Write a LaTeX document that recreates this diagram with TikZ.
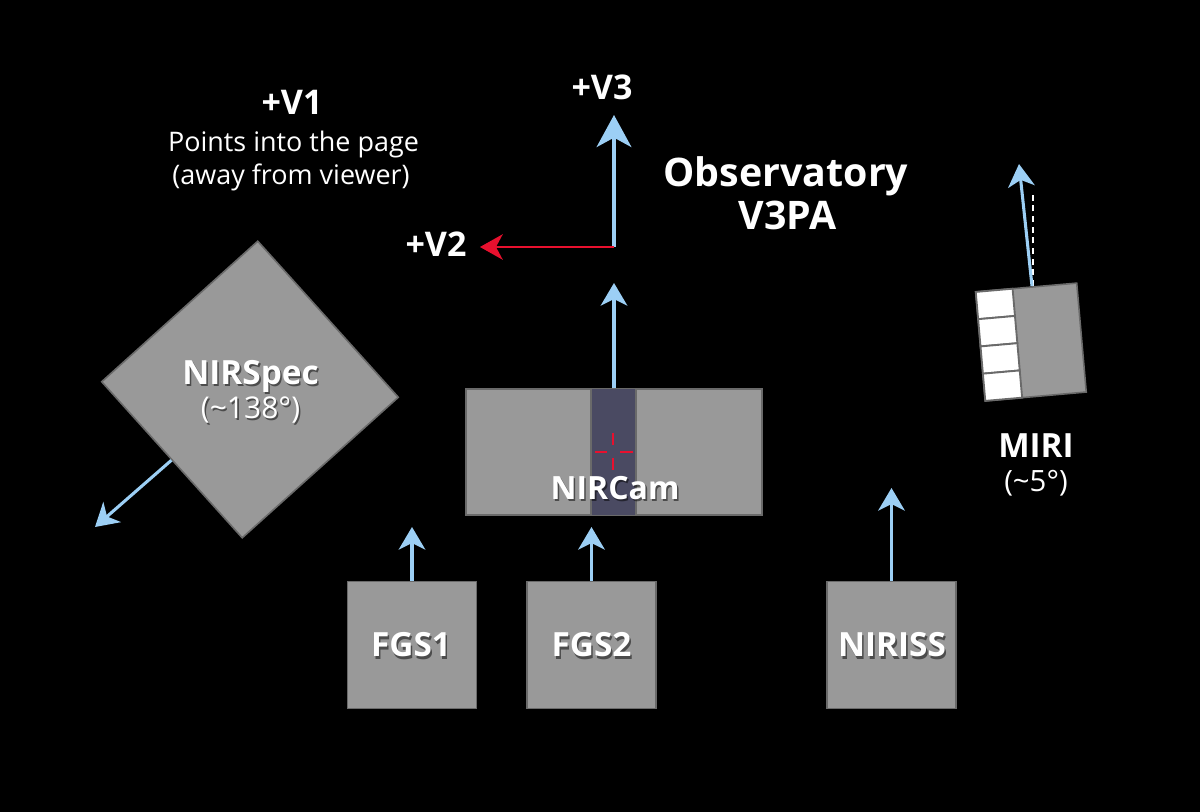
\documentclass[tikz,border=0pt]{standalone}
\usepackage{fontspec}
\setmainfont{Open Sans}
\usetikzlibrary{arrows.meta}
\definecolor{bx}{HTML}{999999}
\definecolor{bxline}{HTML}{6A6A6A}
\definecolor{stripe}{HTML}{4A4A62}
\definecolor{ablue}{HTML}{9CCFF5}
\definecolor{ared}{HTML}{E8102E}
\tikzset{
  box/.style={draw=bxline, fill=bx, line width=1.2pt, inner sep=0pt, minimum width=96.75pt, minimum height=95.25pt},
  barrow/.style={draw=ablue, line width=2.3pt, -{Stealth[length=17pt, width=20pt, inset=5pt, fill=ablue]}},
  bigarrow/.style={draw=ablue, line width=3pt, -{Stealth[length=24pt, width=26pt, inset=7pt, fill=ablue]}},
  rarrow/.style={draw=ared, line width=2pt, -{Stealth[length=17pt, width=19pt, inset=5pt, fill=ared]}},
  bigtxt/.style={text=white, anchor=base, inner sep=0pt, font=\bfseries\fontsize{25}{30}\selectfont},
  obstxt/.style={text=white, anchor=base, inner sep=0pt, font=\bfseries\fontsize{29.5}{34}\selectfont},
  axtxt/.style={text=white, anchor=base, inner sep=0pt, font=\bfseries\fontsize{25.5}{30}\selectfont},
  smtxt/.style={text=white, anchor=base, inner sep=0pt, font=\fontsize{20.2}{24}\selectfont},
  angtxt/.style={text=white, anchor=base, inner sep=0pt, font=\fontsize{22.5}{26}\selectfont},
  shadow/.style={text=black, opacity=0.5, xshift=1.2pt, yshift=-1.5pt},
}
\begin{document}
\begin{tikzpicture}[x=0.75pt,y=-0.75pt]
\fill[black] (0,0) rectangle (1200,812);
\useasboundingbox (0,0) rectangle (1200,812);

% axes
\coordinate (origin) at (614,247);
\coordinate (v3tip) at (614,115);
\coordinate (v2tip) at (480,247);
\draw[bigarrow] (origin) -- (v3tip);
\draw[rarrow] (origin) -- (v2tip);
\node[axtxt] (v3lbl) at (602,100) {+V3};
\node[axtxt] (v2lbl) at (436,257) {+V2};
\node[axtxt] (v1lbl) at (292,115) {+V1};
\node[smtxt] (v1a) at (293.5,152) {Points into the page};
\node[smtxt] (v1b) at (291,185) {(away from viewer)};
\node[obstxt] (obs) at (786,187) {Observatory};
\node[obstxt] (v3pa) at (787.5,230) {V3PA};

% NIRCam
\node[box, minimum width=222pt, minimum height=94.5pt] (nircam) at (614,452) {};
\fill[stripe] (591,389) rectangle (636,515);
\draw[bxline, line width=1.2pt] (591,389) -- (591,515) (636,389) -- (636,515);
\draw[ared, line width=1pt] (595,452) -- (607,452) (620,452) -- (633,452)
  (613,433) -- (613,445) (613,458) -- (613,470);
\node[bigtxt, font=\bfseries\fontsize{24}{28}\selectfont, shadow] (nircamsh) at (615,500) {NIRCam};
\node[bigtxt, font=\bfseries\fontsize{24}{28}\selectfont] (nircamlbl) at (615,500) {NIRCam};
\coordinate (nircamtip) at (614,283);
\draw[barrow] (nircam.north) -- (nircamtip);

% FGS1, FGS2, NIRISS
\node[box] (fgs1) at (412,645) {};
\node[box] (fgs2) at (591.5,645) {};
\node[box] (niriss) at (891.5,645) {};
\node[bigtxt, shadow] (fgs1sh) at (411,657) {FGS1};
\node[bigtxt, shadow] (fgs2sh) at (591.5,657) {FGS2};
\node[bigtxt, shadow] (nirisssh) at (892,657) {NIRISS};
\node[bigtxt] (fgs1lbl) at (411,657) {FGS1};
\node[bigtxt] (fgs2lbl) at (591.5,657) {FGS2};
\node[bigtxt] (nirisslbl) at (892,657) {NIRISS};
\coordinate (fgs1tip) at (412,527);
\coordinate (fgs2tip) at (591.5,527);
\coordinate (nirisstip) at (891.5,488);
\draw[barrow] (fgs1.north) -- (fgs1tip);
\draw[barrow] (fgs2.north) -- (fgs2tip);
\draw[barrow] (niriss.north) -- (nirisstip);

% NIRSpec
\node[box, minimum width=157.5pt, minimum height=157.5pt, rotate=42] (nirspec) at (250,389.5) {};
\node[bigtxt, shadow] (nirspecsh) at (250.5,385) {NIRSpec};
\node[angtxt, shadow] (nirspecangsh) at (250.5,419) {(\char"7E\relax 138°)};
\node[bigtxt] (nirspeclbl) at (250.5,385) {NIRSpec};
\node[angtxt] (nirspecang) at (250.5,419) {(\char"7E\relax 138°)};
\coordinate (nirspectip) at (95,527);
\draw[barrow] (nirspec.west) -- (nirspectip);

% MIRI
\node[box, minimum width=76pt, minimum height=82pt, rotate=5] (miri) at (1031,342) {};
\begin{scope}[shift={(1031,342)}, rotate=5]
  \foreach \i in {0,1,2,3} {
    \draw[fill=white, draw=bxline, line width=1.4pt] (-50.7,-54.7+\i*27.35) rectangle (-13.7,-54.7+\i*27.35+27.35);
  }
\end{scope}
\coordinate (mirifoot) at (1032,286);
\coordinate (miridash) at (1033,286);
\coordinate (miridashend) at (1033,194);
\coordinate (miritip) at (1019,164);
\draw[white, line width=1.1pt, dash pattern=on 4.5pt off 3.5pt] (miridash) -- (miridashend);
\draw[barrow] (mirifoot) -- (miritip);
\node[bigtxt] (mirilbl) at (1036,458) {MIRI};
\node[angtxt, font=\fontsize{22}{26}\selectfont] (miriang) at (1036,492) {(\char"7E\relax 5°)};
\end{tikzpicture}
\end{document}
